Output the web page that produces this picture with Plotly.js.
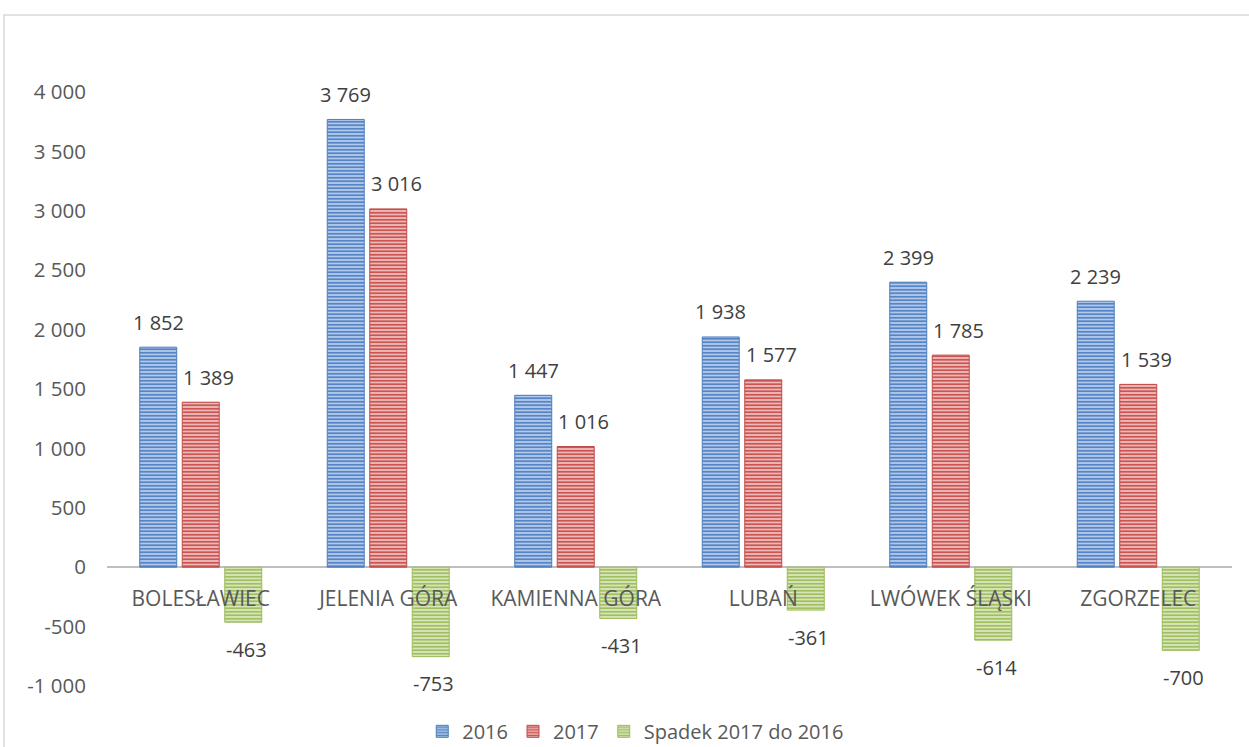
<!DOCTYPE html>
<html>
<head>
<meta charset="utf-8">
<script src="https://cdn.plot.ly/plotly-3.0.1.min.js"></script>
<style>html,body{margin:0;padding:0;background:#fff;}#chart{width:1249px;height:747px;}</style>
</head>
<body>
<div id="chart"></div>
<script>
const categories = ["BOLESŁAWIEC", "JELENIA GÓRA", "KAMIENNA GÓRA", "LUBAŃ", "LWÓWEK ŚLĄSKI", "ZGORZELEC"];
const values2016 = [1852, 3769, 1447, 1938, 2399, 2239];
const values2017 = [1389, 3016, 1016, 1577, 1785, 1539];
const spadek = [-463, -753, -431, -361, -614, -700];
const seriesNames = ["2016", "2017", "Spadek 2017 do 2016"];
const yTickVals = [-1000, -500, 0, 500, 1000, 1500, 2000, 2500, 3000, 3500, 4000];
const yTickText = ["-1 000", "-500", "0", "500", "1 000", "1 500", "2 000", "2 500", "3 000", "3 500", "4 000"];

const FONT = "'Open Sans', 'Noto Sans', sans-serif";
function fmt(v) {
  const s = Math.abs(v).toString().replace(/\B(?=(\d{3})+(?!\d))/g, " ");
  return (v < 0 ? "-" : "") + s;
}

const styles = [
  {bg: "#bcd0ea", fg: "#5585c8", line: "#4a7ebb"},
  {bg: "#f0c4c3", fg: "#cc5552", line: "#be4b48"},
  {bg: "#dfeac6", fg: "#a0c060", line: "#9bbb59"}
];
const allSeries = [values2016, values2017, spadek];

const traces = allSeries.map((vals, i) => ({
  type: "bar",
  name: seriesNames[i],
  x: categories,
  y: vals,
  marker: {
    color: styles[i].bg,
    line: {color: styles[i].line, width: 1},
    pattern: {shape: "-", fgcolor: styles[i].fg, bgcolor: styles[i].bg, size: 3.5, solidity: 0.55, fillmode: "replace"}
  },
  hoverinfo: "x+y"
}));

const slot = 42.5;
const annotations = [];
allSeries.forEach((vals, i) => {
  vals.forEach((v, j) => {
    annotations.push({
      x: categories[j], y: v, xref: "x", yref: "y",
      text: fmt(v), showarrow: false,
      xshift: i === 1 ? 8 : (i === 0 ? -slot : slot + 3),
      yshift: v >= 0 ? 25 : -27,
      xanchor: "center", yanchor: "middle",
      font: {family: FONT, size: 20, color: "#404040"}
    });
  });
});

const layout = {
  width: 1249, height: 747,
  margin: {l: 107, r: 17, t: 92, b: 61, autoexpand: false},
  paper_bgcolor: "#ffffff", plot_bgcolor: "#ffffff",
  separators: ", ",
  barmode: "group", bargap: 0.32, bargroupgap: 0.13,
  font: {family: FONT, color: "#595959", size: 20},
  xaxis: {
    type: "category", anchor: "free", position: 0.2,
    showline: false, showgrid: false, zeroline: false, ticks: "",
    tickfont: {family: FONT, size: 21, color: "#595959"},
    ticklabelstandoff: 17, automargin: false
  },
  yaxis: {
    range: [-1000, 4000], domain: [0, 1],
    tickvals: yTickVals, ticktext: yTickText,
    showgrid: false, showline: false,
    zeroline: true, zerolinecolor: "#bfbfbf", zerolinewidth: 2.5,
    ticks: "", ticklabelstandoff: 20, automargin: false,
    tickfont: {family: FONT, size: 20.5, color: "#595959"}
  },
  showlegend: true,
  legend: {
    orientation: "h", x: 0.47, xanchor: "center",
    yref: "container", y: 0.021, yanchor: "middle",
    font: {family: FONT, size: 20, color: "#595959"},
    itemwidth: 30, traceorder: "normal"
  },
  annotations: annotations,
  shapes: [{
    type: "rect", xref: "paper", yref: "paper",
    x0: -0.0916, x1: 1.2, y0: -0.3, y1: 1.1296,
    line: {color: "#d9d9d9", width: 1.5}, fillcolor: "rgba(0,0,0,0)", layer: "below"
  }]
};

Plotly.newPlot("chart", traces, layout, {displayModeBar: false, staticPlot: true});
</script>
</body>
</html>
